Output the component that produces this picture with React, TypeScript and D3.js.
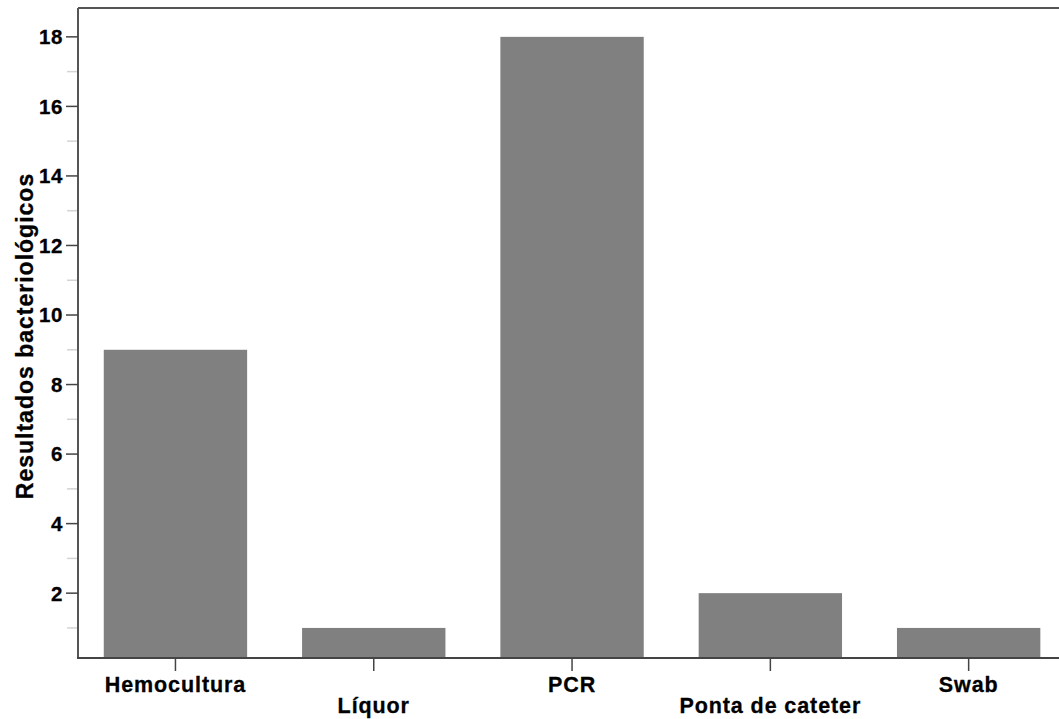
import React from "react";
import * as d3 from "d3";

const categories = ["Hemocultura", "Líquor", "PCR", "Ponta de cateter", "Swab"];
const values = [9, 1, 18, 2, 1];
const majorTicks = [2, 4, 6, 8, 10, 12, 14, 16, 18];
const minorTicks = [1, 3, 5, 7, 9, 11, 13, 15, 17];
const yLabel = "Resultados bacteriológicos";

const W = 1059;
const H = 719;
const left = 78;
const top = 8;
const bottom = 658;

export default function App() {
  const x = d3
    .scaleBand<string>()
    .domain(categories)
    .range([76.3, 1067.8])
    .paddingInner(0.277)
    .paddingOuter(0.1385);
  const y = d3.scaleLinear().domain([0.135, 18.83]).range([bottom, top]);
  const font = "'Liberation Sans', Arial, sans-serif";

  return (
    <svg
      width={W}
      height={H}
      style={{ position: "absolute", left: 0, top: 0, background: "#fff" }}
      fontFamily={font}
    >
      <rect x={0} y={0} width={W} height={H} fill="#fff" />
      {categories.map((c, i) => (
        <rect
          key={c}
          x={x(c)}
          y={y(values[i])}
          width={x.bandwidth()}
          height={bottom - y(values[i])}
          fill="#808080"
        />
      ))}
      {/* frame */}
      <line x1={left} x2={W} y1={top} y2={top} stroke="#555" strokeWidth={2} />
      <line x1={left} x2={left} y1={top} y2={bottom} stroke="#555" strokeWidth={2} />
      <line x1={left - 1} x2={W} y1={bottom} y2={bottom} stroke="#444" strokeWidth={2} />
      {minorTicks.map((t) => (
        <line key={"m" + t} x1={67} x2={77} y1={y(t)} y2={y(t)} stroke="#d4d4d4" strokeWidth={1.5} />
      ))}
      {majorTicks.map((t) => (
        <g key={t}>
          <line x1={66} x2={left} y1={y(t)} y2={y(t)} stroke="#444" strokeWidth={1.5} />
          <text
            x={63}
            y={y(t)}
            dy="0.36em"
            textAnchor="end"
            fontSize={20.5}
            fontWeight="bold"
            letterSpacing={0.6}
            fill="#000"
            stroke="#000"
            strokeWidth={0.3}
          >
            {t}
          </text>
        </g>
      ))}
      {categories.map((c, i) => {
        const cx = (x(c) as number) + x.bandwidth() / 2;
        return (
          <g key={"t" + c}>
            <line x1={cx} x2={cx} y1={bottom} y2={671} stroke="#444" strokeWidth={1.5} />
            <text
              x={cx}
              y={i % 2 === 0 ? 692 : 713}
              textAnchor="middle"
              fontSize={21.5}
              fontWeight="bold"
              letterSpacing={0.9}
              fill="#000"
              stroke="#000"
              strokeWidth={0.3}
            >
              {c}
            </text>
          </g>
        );
      })}
      <text
        transform={`translate(33, ${(top + bottom) / 2 + 3}) rotate(-90)`}
        textAnchor="middle"
        fontSize={23}
        fontWeight="bold"
        letterSpacing={1}
        fill="#000"
        stroke="#000"
        strokeWidth={0.3}
      >
        {yLabel}
      </text>
    </svg>
  );
}
